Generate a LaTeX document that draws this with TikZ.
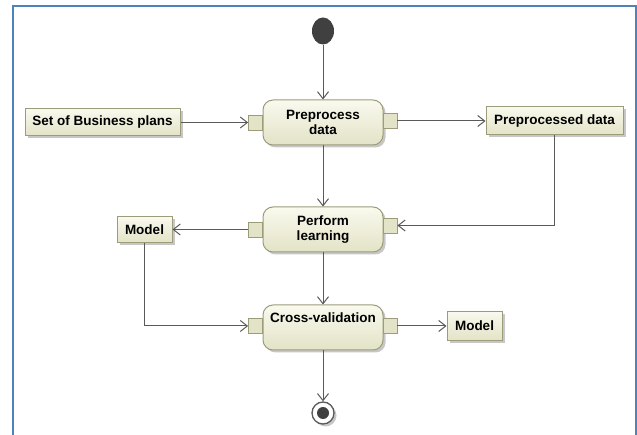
\documentclass[tikz,border=0pt]{standalone}
\usepackage{fontspec}
\setmainfont{Liberation Sans}
\usetikzlibrary{arrows.meta,shapes.geometric,shadows}
\definecolor{frameblue}{HTML}{4F81BD}
\definecolor{boxline}{HTML}{9C9C7A}
\definecolor{boxtop}{HTML}{F9F9EE}
\definecolor{boxbot}{HTML}{E3E3C7}
\definecolor{flowgray}{HTML}{5A5A5A}
\definecolor{dotgray}{HTML}{404040}

\begin{document}
\begin{tikzpicture}[x=1pt,y=-1pt,
	font=\fontsize{13.5}{14.5}\selectfont\bfseries,
	boxshadow/.style={drop shadow={shadow xshift=2.5pt,shadow yshift=-2.5pt,fill=black,opacity=.22}},
	action/.style={draw=boxline,line width=1pt,rounded corners=10pt,top color=boxtop,bottom color=boxbot,
		minimum width=120pt,minimum height=45pt,align=center,boxshadow},
	pinbox/.style={draw=boxline,line width=.8pt,fill=boxbot,minimum width=14pt,minimum height=15pt,inner sep=0pt},
	object/.style={draw=boxline,line width=1pt,top color=boxtop,bottom color=boxbot,inner sep=0pt,boxshadow},
	flow/.style={draw=flowgray,line width=1pt,-{Straight Barb[length=7pt,width=11pt]}}]
				\useasboundingbox (0,0) rectangle (637,435);
				\draw[frameblue,line width=2pt] (13,435) -- (13,6) -- (636,6) -- (636,435);
				\node[ellipse,fill=dotgray,minimum width=22pt,minimum height=27pt,inner sep=0pt] (start) at (323,31) {};
				\node[action] (pre) at (323,122.5) {Preprocess\\data};
				\node[action] (perf) at (323,229.5) {Perform\\learning};
				\node[action,text depth=19pt] (cv) at (323,327.5) {Cross-validation};
				\node[pinbox] (pre-in) at (255.5,122.5) {};
				\node[pinbox] (pre-out) at (390,121) {};
				\node[pinbox] (perf-in) at (255.5,229.5) {};
				\node[pinbox] (perf-out) at (390,225.5) {};
				\node[pinbox] (cv-in) at (255.5,326) {};
				\node[pinbox] (cv-out) at (390,326) {};
				\node[object,minimum width=155pt,minimum height=27pt] (plans) at (102.5,122.5) {Set of Business plans};
				\node[object,minimum width=137pt,minimum height=28pt] (prepdata) at (554.5,121) {Preprocessed data};
				\node[object,minimum width=55pt,minimum height=26pt] (model) at (144.5,229.5) {Model};
				\node[object,minimum width=55pt,minimum height=29pt] (model') at (474.5,326) {Model};
				\node[circle,draw=flowgray,line width=1.3pt,fill=white,minimum size=22pt,inner sep=0pt,boxshadow] (end) at (323,413) {};
				\fill[dotgray] (end.center) circle (6pt);
				\draw[flow] (start) to (pre);
				\draw[flow] (plans) to (pre-in);
				\draw[flow] (pre-out) to (prepdata);
				\draw[flow] (pre) to (perf);
				\draw[flow] (prepdata.south) |- (perf-out.east);
				\draw[flow] (perf-in) to (model);
				\draw[flow] (model.south) |- (cv-in.west);
				\draw[flow] (perf) to (cv);
				\draw[flow] (cv-out) to (model');
				\draw[flow] (cv) to (end);
			\end{tikzpicture}
\end{document}
